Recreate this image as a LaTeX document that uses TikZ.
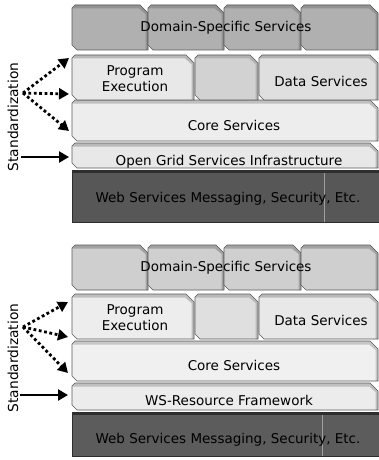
\documentclass[tikz,border=0pt]{standalone}
\usepackage{fontspec}
\setmainfont{DejaVu Sans}
\usetikzlibrary{arrows.meta}
\newcommand{\bevbox}[6]{%
  \fill[#5] ({#1},{#2+3}) -- ({#1+3},{#2}) -- ({#3-8},{#2}) -- ({#3},{#2+8}) -- ({#3},{#4}) -- ({#1+5},{#4}) -- ({#1},{#4-5}) -- cycle;
  \fill[#6] ({#1},{#2+3}) -- ({#1+3},{#2}) -- ({#3-8},{#2}) -- ({#3},{#2+8}) -- ({#3},{#4}) -- ({#3-2.5},{#4}) -- ({#3-2.5},{#2+9}) -- ({#3-9},{#2+3.5}) -- ({#1+1},{#2+3.5}) -- cycle;
  \draw[black!65,line width=0.6pt] ({#1},{#2+3}) -- ({#1+3},{#2}) -- ({#3-8},{#2}) -- ({#3},{#2+8}) -- ({#3},{#4}) -- ({#1+5},{#4}) -- ({#1},{#4-5}) -- cycle;
}
\tikzset{
  lbl/.style={font=\fontsize{13.5}{16}\selectfont, text=black, align=center, inner sep=0pt},
  stdlbl/.style={font=\fontsize{13.8}{16}\selectfont, rotate=90, inner sep=0pt},
  dotarrow/.style={line width=2.8pt, dash pattern=on 2.8pt off 2.6pt, -{Triangle[length=10pt,width=11pt]}},
  solidarrow/.style={line width=2.8pt, -{Triangle[length=10pt,width=11pt]}},
  divider/.style={gray!75, line width=0.8pt}
}
\begin{document}
\begin{tikzpicture}[x=1pt,y=-1pt]
\useasboundingbox (0,0) rectangle (379,460);
\fill[white] (0,0) rectangle (379,460);

% ================= TOP PANEL =================
\bevbox{72}{143}{378}{168}{gray!18}{gray!55}
\bevbox{72}{100}{378}{141}{gray!14}{gray!50}
\bevbox{72}{5}{148}{50}{gray!62}{gray!85}
\bevbox{148}{5}{224}{50}{gray!62}{gray!85}
\bevbox{224}{5}{301}{50}{gray!62}{gray!85}
\bevbox{301}{5}{378}{50}{gray!62}{gray!85}
\bevbox{72}{55}{194}{100}{gray!18}{gray!55}
\bevbox{195}{55}{258}{100}{gray!35}{gray!60}
\bevbox{259}{55}{378}{100}{gray!25}{gray!60}
% web services
\fill[black!66] (72,170) rectangle (379,222);
\fill[black!82] (72,170) rectangle (379,173);
\draw[black!82,line width=0.6pt] (72,170) rectangle (379,222);
\draw[divider] (324,173) -- (324,222);

\node[lbl] (ds1) at (226,28) {Domain-Specific Services};
\node[lbl] (pe1) at (135,79) {Program\\Execution};
\node[lbl] (da1) at (321,81) {Data Services};
\node[lbl] (cs1) at (234,125) {Core Services};
\node[lbl] (og1) at (229,162) {Open Grid Services Infrastructure};
\node[lbl] (ws1) at (228,199) {Web Services Messaging, Security, Etc.};
\node[stdlbl] (st1) at (13,117) {Standardization};

\coordinate (o1) at (23,93);
\coordinate (t1a) at (69,58);
\coordinate (t1b) at (69,94);
\coordinate (t1c) at (69,131);
\coordinate (s1a) at (21,157);
\coordinate (s1b) at (69,157);
\draw[dotarrow] (o1) -- (t1a);
\draw[dotarrow] (o1) -- (t1b);
\draw[dotarrow] (o1) -- (t1c);
\draw[solidarrow] (s1a) -- (s1b);

% ================= BOTTOM PANEL =================
\bevbox{72}{383}{378}{410}{gray!15}{gray!50}
\bevbox{72}{341}{378}{381}{gray!12}{gray!45}
\bevbox{72}{245}{148}{290}{gray!38}{gray!72}
\bevbox{148}{245}{224}{290}{gray!38}{gray!72}
\bevbox{224}{245}{301}{290}{gray!38}{gray!72}
\bevbox{301}{245}{378}{290}{gray!38}{gray!72}
\bevbox{72}{294}{194}{339}{gray!14}{gray!50}
\bevbox{195}{294}{258}{339}{gray!25}{gray!55}
\bevbox{259}{294}{378}{339}{gray!18}{gray!55}
\fill[black!64] (72,412) rectangle (379,456);
\fill[black!82] (72,412) rectangle (379,415);
\draw[black!82,line width=0.6pt] (72,412) rectangle (379,456);
\draw[divider] (322,415) -- (322,456);

\node[lbl] (ds2) at (226,268) {Domain-Specific Services};
\node[lbl] (pe2) at (135,318) {Program\\Execution};
\node[lbl] (da2) at (321,320) {Data Services};
\node[lbl] (cs2) at (234,365) {Core Services};
\node[lbl] (rf2) at (229,400) {WS-Resource Framework};
\node[lbl] (ws2) at (228,440) {Web Services Messaging, Security, Etc.};
\node[stdlbl] (st2) at (13,358) {Standardization};

\coordinate (o2) at (23,327);
\coordinate (t2a) at (68,302);
\coordinate (t2b) at (68,337);
\coordinate (t2c) at (68,373);
\coordinate (s2a) at (20,395);
\coordinate (s2b) at (68,395);
\draw[dotarrow] (o2) -- (t2a);
\draw[dotarrow] (o2) -- (t2b);
\draw[dotarrow] (o2) -- (t2c);
\draw[solidarrow] (s2a) -- (s2b);
\end{tikzpicture}
\end{document}
